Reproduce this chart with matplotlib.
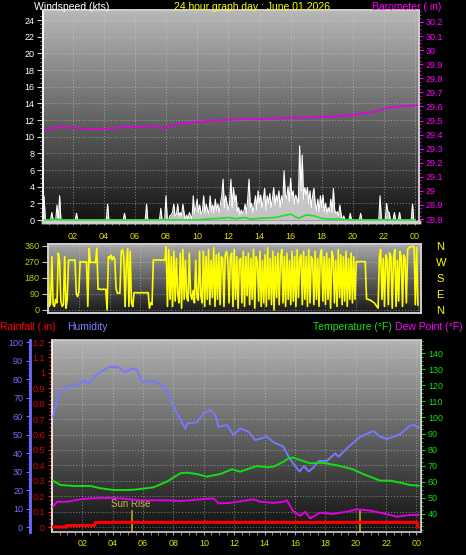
import numpy as np
import matplotlib.pyplot as plt
from matplotlib.colors import LinearSegmentedColormap

plt.rcParams['font.family'] = ['Liberation Sans', 'DejaVu Sans']

# wind speed (kts), 5 minute samples, one row per hour
wind_speed = [
    0, 0, 2.9, 0, 0, 0, 0, 0, 0.9, 0, 0, 0,
    1.8, 0, 2.9, 0, 0, 0, 0, 0, 0, 0, 0, 0,
    0, 0, 0, 0.8, 0, 0, 0, 0, 0, 0, 0, 0,
    0, 0, 0, 0, 0, 0, 0, 0, 0, 0, 0, 0,
    0, 0, 0, 1.9, 0, 0, 0, 0, 0, 0, 0, 0,
    0, 0, 0, 0, 0.8, 0, 0, 0, 0, 0, 0, 0,
    0, 0, 0, 0, 0, 0, 0, 0, 0, 1.9, 0, 0,
    0, 0, 0, 0, 0, 0, 0, 0, 1.4, 0, 0, 0,
    2.9, 0, 0, 0.5, 0.6, 0.9, 1.9, 0.5, 0.6, 1.9, 0.4, 0.9,
    0.5, 1.9, 0.8, 0, 0.6, 0, 0.9, 0.5, 0, 2.9, 0.8, 1.5,
    2.5, 0.9, 1.8, 0.7, 1.0, 2.9, 0.8, 1.9, 1.2, 0.7, 2.9, 1.0,
    1.8, 0.8, 2.5, 1.1, 1.9, 0.9, 2.0, 2.9, 4.9, 1.5, 2.9, 2.0,
    1.2, 2.0, 4.9, 1.5, 3.9, 2.2, 3.0, 1.0, 1.5, 0.6, 1.2, 0.8,
    1.0, 1.9, 0.8, 2.5, 4.9, 1.5, 2.0, 0.9, 1.8, 2.9, 1.2, 3.5,
    2.0, 3.0, 1.5, 2.5, 3.8, 1.2, 2.9, 2.0, 3.2, 1.5, 2.5, 3.9,
    1.8, 3.0, 2.2, 3.5, 1.5, 2.9, 2.0, 5.9, 3.0, 2.5, 4.0, 2.2,
    5.0, 2.8, 3.5, 1.9, 3.0, 2.5, 2.0, 8.9, 3.5, 7.8, 2.5, 3.9,
    3.0, 3.9, 2.0, 3.5, 1.5, 2.9, 3.8, 2.0, 1.2, 2.5, 1.0, 2.9,
    1.5, 3.0, 1.0, 2.0, 0.8, 1.5, 1.0, 2.5, 0.9, 3.8, 1.2, 0.8,
    1.0, 0.5, 1.8, 0.6, 0, 0.5, 0, 0, 0, 0, 0.8, 0,
    0, 0, 0, 0, 0, 0, 0.8, 0, 0, 0, 0, 0,
    0, 0, 0, 0, 0, 0, 0, 0, 0, 2.9, 0, 0,
    0, 0, 2.0, 1.0, 0.9, 0, 0, 0, 0.9, 0, 0, 0,
    0.9, 0, 0, 0, 0, 0, 0, 0, 0, 0, 1.9, 0,
    0,
]

# average wind speed, half hour samples
wind_avg = [0, 0, 0.1, 0, 0, 0, 0, 0, 0, 0, 0, 0, 0, 0, 0, 0,
            0.05, 0, 0, 0, 0, 0.1, 0.15, 0.2, 0.3, 0.15, 0.3, 0.1,
            0.2, 0.25, 0.3, 0.5, 0.7, 0.2, 0.6, 0.5, 0.2, 0.1, 0.15,
            0.05, 0, 0, 0, 0, 0.05, 0, 0, 0, 0]

# barometer (.in)
baro_hours = [0, 1, 2, 3, 4, 5, 6, 7, 7.8, 8.5, 9, 10, 11, 12, 13, 14, 15,
              16, 17, 18, 19, 20, 21, 21.5, 22, 22.5, 23, 24.2]
baro = [29.44, 29.45, 29.45, 29.44, 29.44, 29.45, 29.455, 29.46, 29.445,
        29.47, 29.48, 29.49, 29.50, 29.505, 29.51, 29.51, 29.515, 29.52,
        29.52, 29.525, 29.53, 29.54, 29.555, 29.565, 29.585, 29.595,
        29.60, 29.61]

# wind direction (deg), 5 minute samples, one row per hour
wind_dir = [
    345, 20, 40, 300, 30, 20, 60, 40, 320, 280, 50, 20,
    30, 300, 10, 60, 280, 280, 280, 280, 280, 282, 94, 75,
    100, 272, 270, 272, 268, 270, 272, 20, 347, 268, 268, 268,
    268, 266, 347, 116, 118, 116, 115, 117, 116, 116, 0, 300,
    290, 309, 281, 300, 285, 120, 94, 95, 94, 330, 340, 300,
    19, 250, 347, 20, 330, 40, 19, 97, 98, 97, 97, 96,
    97, 98, 97, 96, 97, 98, 97, 10, 40, 30, 281, 282,
    281, 280, 282, 281, 280, 282, 281, 280, 356, 20, 340, 60,
    300, 20, 330, 50, 290, 90, 40, 320, 10, 340, 60, 280,
    70, 50, 320, 90, 60, 110, 40, 280, 70, 55, 330, 80,
    40, 330, 20, 300, 60, 340, 30, 280, 70, 350, 20, 310,
    60, 320, 30, 300, 290, 20, 310, 330, 280, 40, 300, 320,
    20, 340, 60, 300, 10, 280, 290, 40, 330, 20, 300, 80,
    320, 30, 290, 60, 340, 10, 300, 270, 50, 330, 20, 280,
    40, 310, 20, 350, 60, 290, 30, 330, 0, 300, 70, 320,
    30, 290, 340, 40, 300, 20, 320, 60, 280, 30, 330, 50,
    300, 20, 340, 70, 290, 310, 30, 330, 60, 300, 20, 340,
    40, 300, 280, 30, 330, 60, 290, 20, 310, 340, 50, 300,
    30, 320, 60, 290, 10, 330, 300, 40, 280, 20, 340, 70,
    310, 30, 300, 50, 330, 20, 290, 60, 320, 40, 300, 60,
    272, 272, 271, 273, 272, 272, 272, 272, 62, 60, 58, 55,
    50, 45, 40, 30, 20, 10, 300, 340, 60, 290, 20, 310,
    280, 30, 320, 300, 10, 290, 340, 20, 280, 50, 330, 300,
    20, 310, 290, 40, 340, 350, 355, 356, 358, 355, 30, 350,
    28,
]

# humidity (%)
hum_hours = [0.07, 0.44, 0.99, 1.65, 2.09, 2.42, 2.96, 3.62, 3.84, 4.39, 4.83,
             5.27, 5.6, 5.93, 6.69, 7.02, 7.46, 8.12, 8.78, 8.89, 9.54, 9.98,
             10.42, 10.75, 10.97, 11.52, 11.96, 12.39, 12.94, 13.38, 14.15,
             14.59, 15.25, 15.58, 16.0, 16.3, 16.6, 16.9, 17.2, 17.55, 18.1,
             18.65, 18.87, 19.42, 20.3, 21.17, 21.61, 22.05, 22.93, 23.58,
             23.91, 24.13]
humidity = [59.6, 72.3, 75.9, 76.8, 79.1, 77.6, 82.5, 85.8, 86.7, 86.3, 83.6,
            85.8, 84.9, 78.6, 78.6, 77.6, 75.3, 63.2, 53, 56, 56.6, 61.4,
            63.2, 60.5, 54.2, 55.1, 49.7, 53.3, 51.5, 47, 48.8, 45.8, 43.4,
            38, 33, 30, 33, 30, 32, 35.7, 35.7, 39.8, 38, 42.5, 48.8, 51.9,
            48.8, 47.6, 50.1, 54.8, 55.1, 53.7]

# temperature (F)
temp_hours = [0.07, 0.55, 1.43, 2.52, 3.18, 4.06, 5.16, 5.81, 6.69, 7.57,
              8.45, 8.89, 9.54, 10.2, 11.08, 11.85, 12.39, 13.05, 13.5, 14.15,
              14.59, 15.25, 15.58, 15.9, 16.34, 17.0, 17.65, 18.1, 18.3, 19.0,
              19.8, 20.5, 21.2, 21.61, 22.27, 22.93, 23.58, 24.13]
temperature = [60.7, 58, 57.4, 57.4, 56, 54.9, 54.9, 55.5, 56.6, 60.1,
               65.3, 65.7, 64.8, 63.2, 64.8, 67.8, 66.3, 68.4, 69.8, 69,
               69.4, 72.5, 74.6, 75, 73.5, 71.5, 71.8, 71.5, 71, 69.8,
               67.8, 64.8, 62.2, 60.7, 60.7, 59.5, 58, 57.6]

# dew point (F)
dew_hours = [0.07, 0.33, 0.99, 1.86, 2.52, 3.62, 4.5, 5.16, 5.81, 6.47, 7.57,
             8.45, 9.1, 9.76, 10.64, 10.97, 11.74, 12.39, 13.27, 13.7, 14.59,
             15.25, 15.47, 15.9, 16.34, 16.67, 17.0, 17.65, 18.5, 19.4, 20.1,
             20.96, 21.8, 22.7, 23.58, 24.13]
dew_point = [44.5, 47.6, 47.6, 49.1, 49.7, 50, 49.7, 49.1, 48.5, 48.5, 48.5,
             48.1, 48.5, 49.1, 49.7, 46.6, 46.9, 47.9, 49.1, 47.6, 46.9, 47.6,
             48.5, 41.4, 38.8, 41.4, 37.3, 40.8, 40, 41.4, 42.9, 42.1, 40.4,
             38.3, 39.4, 39.4]

# rainfall (.in)
rain_hours = [0, 0.99, 1.0, 2.8, 2.85, 24.05, 24.1]
rain = [0, 0, 0.01, 0.01, 0.03, 0.03, 0]

sunrise = 5.27
sunset = 20.25
hour_ticks = list(range(2, 25, 2))
hour_labels = ['%02d' % (h % 24) for h in hour_ticks]

W, H = 466, 555
fig = plt.figure(figsize=(W / 100, H / 100), dpi=100, facecolor='black')


def px_axes(x0, y0, x1, y1):
    return fig.add_axes([x0 / W, 1 - y1 / H, (x1 - x0) / W, (y1 - y0) / H])


def shade(ax, top, bottom):
    cmap = LinearSegmentedColormap.from_list('bg', [bottom, top])
    ax.imshow(np.linspace(0, 1, 256).reshape(-1, 1), extent=[0, 1, 0, 1],
              transform=ax.transAxes, origin='lower', aspect='auto',
              cmap=cmap, zorder=0)


def frame(ax, color='#d0d0d0'):
    for s in ax.spines.values():
        s.set_color(color)
        s.set_linewidth(1.2)


grid_kw = dict(color='#d8d8d8', alpha=0.45, linestyle=':', linewidth=0.8)

# ---- top panel: wind speed + barometer
ax1 = px_axes(43, 10, 419, 222)
shade(ax1, '#b8b8b8', '#121212')
t5 = np.arange(len(wind_speed)) / 12
ax1.fill_between(t5, wind_speed, 0, color='white', alpha=0.75, lw=0, zorder=2)
ax1.plot(t5, wind_speed, color='white', lw=0.8, zorder=3)
ax1.plot(np.arange(len(wind_avg)) / 2, wind_avg, color='#20e020', lw=1.2, zorder=4)
ax1.set_xlim(0.1, 24.25)
ax1.set_ylim(-0.24, 25.2)
ax1.set_xticks(hour_ticks)
ax1.set_xticklabels(hour_labels)
ax1.set_xticks(np.arange(0.5, 24.3, 0.5), minor=True)
ax1.set_yticks(range(0, 25, 2))
ax1.set_yticks(np.arange(0, 25, 0.5), minor=True)
ax1.grid(True, **grid_kw)
ax1.set_axisbelow(False)
ax1.tick_params(axis='x', which='both', colors='#a0a0a0', labelcolor='#e0e000',
                labelsize=6.5, length=2, pad=5)
ax1.tick_params(axis='y', which='major', colors='#d0d0d0', labelcolor='white',
                labelsize=6.5, length=4, pad=2)
ax1.tick_params(axis='y', which='minor', colors='#b0b0b0', length=2)
frame(ax1)
ax1.spines['bottom'].set_linewidth(2.5)
ax1.spines['left'].set_color('white')

ax1b = ax1.twinx()
ax1b.plot(baro_hours, baro, color='#e000e0', lw=1.2)
ax1b.set_ylim(28.779, 30.285)
ax1b.set_yticks(np.round(np.arange(28.8, 30.25, 0.1), 1))
ax1b.set_yticklabels(['%g' % v for v in np.round(np.arange(28.8, 30.25, 0.1), 1)])
ax1b.set_yticks(np.arange(28.8, 30.28, 0.025), minor=True)
ax1b.tick_params(axis='y', which='major', colors='#ff00ff', labelcolor='#ff00ff',
                 labelsize=6.5, length=3, pad=1.5)
ax1b.tick_params(axis='y', which='minor', colors='#ff00ff', length=1.5)
frame(ax1b)
ax1b.spines['bottom'].set_linewidth(2.5)
ax1b.spines['left'].set_color('white')

# ---- middle panel: wind direction
ax2 = px_axes(48, 244, 421, 313)
shade(ax2, '#a8a8a8', '#181818')
ax2.plot(np.arange(len(wind_dir)) / 12, wind_dir, color='#ffff00', lw=1.2, zorder=3)
ax2.set_xlim(0, 24.2)
ax2.set_ylim(-17, 371)
ax2.set_xticks(hour_ticks)
ax2.set_xticklabels([])
ax2.set_yticks([0, 90, 180, 270, 360])
ax2.tick_params(axis='x', length=0)
ax2.tick_params(axis='y', colors='#c0c0c0', labelcolor='#c8c800', labelsize=6.5,
                length=4, pad=2)
ax2.grid(True, **grid_kw)
frame(ax2)
ax2r = ax2.twinx()
ax2r.set_ylim(-17, 371)
ax2r.set_yticks([0, 90, 180, 270, 360])
ax2r.set_yticklabels(['N', 'E', 'S', 'W', 'N'])
ax2r.tick_params(axis='y', length=0, pad=11, labelcolor='#ffff00', labelsize=8)
frame(ax2r)

# ---- bottom panel: rain, humidity, temperature, dew point
ax3 = px_axes(52, 340, 421, 532)
shade(ax3, '#b4b4b4', '#101010')
ax3.plot(rain_hours, rain, color='#ff0000', lw=2.2, zorder=3)
ax3.set_xlim(0.0, 24.3)
ax3.set_ylim(-0.0324, 1.2132)
rain_ticks = np.round(np.arange(0, 1.25, 0.1), 1)
ax3.set_yticks(rain_ticks)
ax3.set_yticklabels(['%g' % v for v in rain_ticks])
ax3.set_yticks(np.arange(0, 1.21, 0.025), minor=True)
ax3.set_xticks(hour_ticks)
ax3.set_xticklabels(hour_labels)
ax3.set_xticks(np.arange(0.5, 24.3, 0.5), minor=True)
ax3.grid(True, **grid_kw)
ax3.tick_params(axis='x', which='both', colors='#a0a0a0', labelcolor='#e0e000',
                labelsize=6.5, length=2, pad=3)
ax3.tick_params(axis='y', which='major', colors='#ff2020', labelcolor='#e00000',
                labelsize=6.5, length=3, pad=2)
ax3.tick_params(axis='y', which='minor', colors='#ff2020', length=2)
frame(ax3)
ax3.spines['left'].set_color('white')
ax3.axvline(sunrise, ymin=0, ymax=0.11, color='#b8a820', lw=1.2, zorder=2)
ax3.axvline(sunset, ymin=0, ymax=0.11, color='#b8a820', lw=1.2, zorder=2)
ax3.text(sunrise - 0.1, 0.12, 'Sun Rise', color='#c8b840', fontsize=7,
         ha='center', va='bottom', zorder=5)

ax3h = ax3.twinx()
ax3h.plot(hum_hours, humidity, color='#7878ff', lw=1.4)
ax3h.set_ylim(-2.7, 101.1)
ax3h.set_yticks(range(0, 101, 10))
ax3h.set_yticks(range(0, 101, 2), minor=True)
ax3h.yaxis.set_ticks_position('left')
ax3h.spines['left'].set_position(('outward', 15.8))
ax3h.spines['left'].set_color('#6c6cff')
ax3h.spines['left'].set_linewidth(2)
for s in ['top', 'right', 'bottom']:
    ax3h.spines[s].set_visible(False)
ax3h.tick_params(axis='y', which='major', colors='#6c6cff', labelcolor='#7070ff',
                 labelsize=6.5, length=3, pad=2)
ax3h.tick_params(axis='y', which='minor', colors='#6c6cff', length=1.5)

ax3t = ax3.twinx()
ax3t.plot(temp_hours, temperature, color='#10e010', lw=1.4)
ax3t.plot(dew_hours, dew_point, color='#e000e0', lw=1.4)
ax3t.set_ylim(28.8, 148.1)
ax3t.set_yticks(range(40, 141, 10))
ax3t.set_yticks(np.arange(30, 148, 2.5), minor=True)
ax3t.tick_params(axis='y', which='major', colors='#10d010', labelcolor='#10e010',
                 labelsize=6.5, length=3, pad=2)
ax3t.tick_params(axis='y', which='minor', colors='#10d010', length=1.5)
for s in ['top', 'left', 'bottom']:
    ax3t.spines[s].set_visible(False)
ax3t.spines['right'].set_color('#d0d0d0')

# ---- headings
hy = 1 - 7 / H
fig.text(34 / W, hy, 'Windspeed (kts)', color='white', fontsize=7.5, va='center')
fig.text(252 / W, hy, '24 hour graph day : June 01 2026', color='#ffff00',
         fontsize=7.5, va='center', ha='center')
fig.text(441 / W, hy, 'Barometer (.in)', color='#ff00ff', fontsize=7.5,
         va='center', ha='right')
by = 1 - 327 / H
fig.text(0, by, 'Rainfall (.in)', color='#ff0000', fontsize=7.5, va='center')
fig.text(67 / W, by, 'Humidity', color='#8080ff', fontsize=7.5, va='center')
fig.text(392 / W, by, 'Temperature (°F)', color='#10e010', fontsize=7.5,
         va='center', ha='right')
fig.text(463 / W, by, 'Dew Point (°F)', color='#ff00ff', fontsize=7.5,
         va='center', ha='right')

fig.savefig('out.png', dpi=100, facecolor='black')
